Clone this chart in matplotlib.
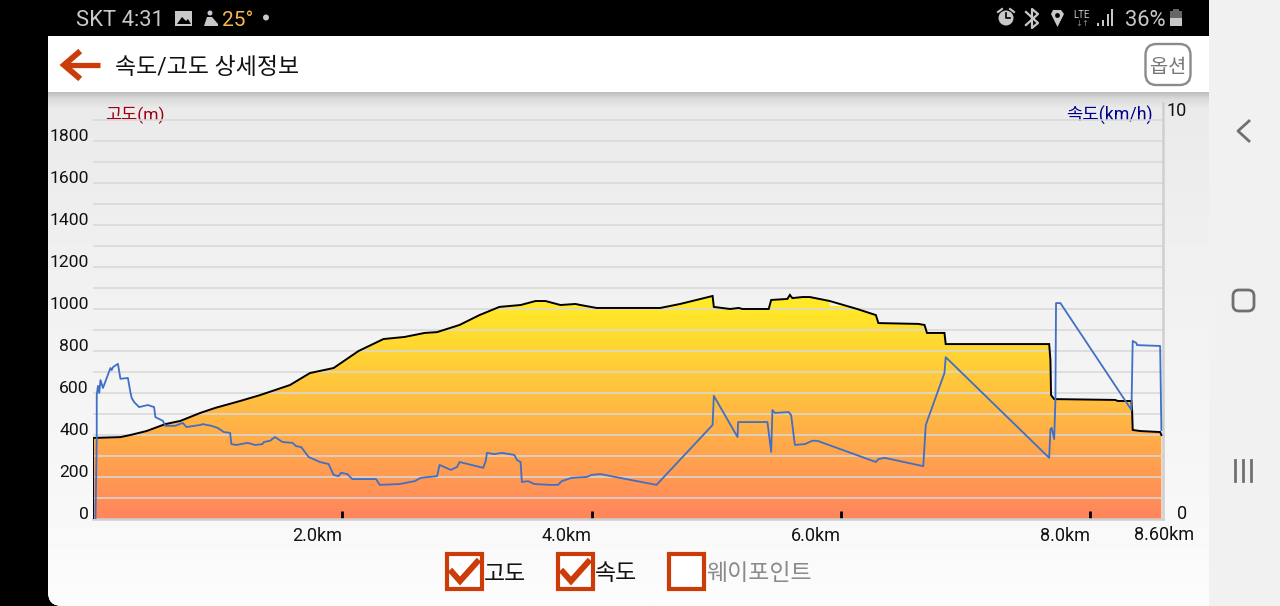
import numpy as np
import matplotlib
matplotlib.use("Agg")
import matplotlib.pyplot as plt
from matplotlib.colors import LinearSegmentedColormap
from matplotlib.patches import Rectangle, FancyBboxPatch, Polygon, Circle

plt.rcParams['font.family'] = ['Roboto', 'Noto Sans CJK KR', 'DejaVu Sans']

# elevation profile
alt_km = [0.00, 0.22, 0.30, 0.43, 0.58, 0.70, 0.86, 0.98, 1.18, 1.34, 1.58, 1.74, 1.93, 2.13, 2.33,
          2.50, 2.66, 2.76, 2.94, 3.10, 3.26, 3.43, 3.55, 3.63, 3.75, 3.87, 3.91, 4.04, 4.55, 4.71,
          4.97, 4.98, 5.11, 5.18, 5.21, 5.42, 5.44, 5.57, 5.59, 5.61, 5.69, 5.75, 5.91, 6.13, 6.28,
          6.30, 6.62, 6.67, 6.69, 6.83, 6.84, 7.67, 7.68, 7.685, 7.71, 8.20, 8.22, 8.33, 8.335, 8.34,
          8.40, 8.56, 8.57]
alt_m = [386, 390, 400, 419, 452, 467, 505, 529, 562, 590, 638, 695, 719, 800, 857,
         867, 886, 890, 924, 971, 1010, 1019, 1038, 1038, 1019, 1024, 1019, 1005, 1005, 1024,
         1062, 1010, 1000, 1005, 1000, 1000, 1043, 1048, 1067, 1052, 1057, 1057, 1038, 1000, 971,
         933, 929, 924, 886, 886, 833, 833, 757, 590, 571, 567, 562, 562, 519, 424,
         419, 414, 400]

# speed trace
spd_km = [0.02, 0.03, 0.03, 0.04, 0.05, 0.06, 0.08, 0.14, 0.15, 0.16, 0.20, 0.22, 0.28, 0.30, 0.31,
          0.33, 0.37, 0.44, 0.49, 0.50, 0.56, 0.58, 0.66, 0.72, 0.75, 0.86, 0.88, 0.95, 1.00, 1.05,
          1.10, 1.11, 1.15, 1.24, 1.30, 1.36, 1.37, 1.42, 1.46, 1.52, 1.60, 1.63, 1.67, 1.73, 1.82,
          1.89, 1.93, 1.97, 1.99, 2.04, 2.08, 2.27, 2.30, 2.46, 2.58, 2.63, 2.76, 2.78, 2.87, 2.92,
          2.94, 3.13, 3.15, 3.16, 3.22, 3.28, 3.38, 3.40, 3.43, 3.44, 3.49, 3.54, 3.67, 3.73, 3.76,
          3.84, 3.96, 4.00, 4.07, 4.19, 4.52, 4.97, 4.98, 5.17, 5.175, 5.41, 5.44, 5.45, 5.47, 5.58,
          5.60, 5.63, 5.71, 5.77, 5.81, 6.28, 6.30, 6.35, 6.66, 6.68, 6.83, 6.84, 7.67, 7.68, 7.69,
          7.71, 7.72, 7.725, 7.76, 8.33, 8.34, 8.37, 8.375, 8.56, 8.57]
spd_kmh = [0.02, 1.95, 2.98, 3.20, 3.03, 3.34, 3.15, 3.63, 3.58, 3.65, 3.73, 3.37, 3.39, 3.05, 2.91,
           2.81, 2.69, 2.74, 2.69, 2.45, 2.36, 2.24, 2.24, 2.31, 2.21, 2.26, 2.28, 2.24, 2.19, 2.09,
           2.07, 1.80, 1.78, 1.83, 1.78, 1.80, 1.85, 1.88, 1.97, 1.85, 1.83, 1.75, 1.73, 1.49, 1.37,
           1.32, 1.06, 1.03, 1.11, 1.08, 0.96, 0.96, 0.82, 0.84, 0.91, 0.99, 1.03, 1.30, 1.18, 1.25,
           1.37, 1.23, 1.39, 1.59, 1.56, 1.59, 1.54, 1.42, 1.37, 0.89, 0.91, 0.84, 0.82, 0.82, 0.91,
           0.99, 1.01, 1.06, 1.08, 1.01, 0.82, 2.26, 2.96, 1.97, 2.33, 2.33, 1.61, 2.62, 2.55, 2.57,
           2.50, 1.78, 1.80, 1.88, 1.88, 1.37, 1.44, 1.47, 1.27, 2.26, 3.51, 3.89, 1.47, 2.16, 2.19,
           1.92, 2.86, 5.19, 5.19, 2.62, 4.28, 4.23, 4.18, 4.16, 2.14]

alt_ticks = [0, 200, 400, 600, 800, 1000, 1200, 1400, 1600, 1800]
grid_levels = list(range(100, 2000, 100))
km_ticks = [2.0, 4.0, 6.0, 8.0]
km_labels = ["2.0km", "4.0km", "6.0km", "8.0km"]

W, H = 1280, 606
fig = plt.figure(figsize=(W / 100, H / 100), dpi=100, facecolor="black")

# phone screen, in pixel coordinates
ui = fig.add_axes([0, 0, 1, 1])
ui.set_xlim(0, W)
ui.set_ylim(H, 0)
ui.axis("off")
ui.add_patch(Rectangle((0, 0), W, H, fc="black", ec="none", zorder=0))

screen = FancyBboxPatch((48, 0), 1200, 606, boxstyle="round,pad=0,rounding_size=14", fc="white", ec="none", zorder=1)
ui.add_patch(screen)
bg = LinearSegmentedColormap.from_list("bg", [(0, "#c0c0c0"), (0.012, "#dcdcdc"), (0.03, "#ebebeb"),
                                              (0.4, "#f2f2f2"), (0.85, "#f9f9f9"), (1, "#fdfdfd")])
im = ui.imshow(np.linspace(0, 1, 512).reshape(-1, 1), cmap=bg, extent=(48, 1248, 606, 92),
               aspect="auto", interpolation="bilinear", zorder=1.5)
im.set_clip_path(screen)
ui.set_xlim(0, W)
ui.set_ylim(H, 0)

ui.add_patch(Rectangle((48, 36), 1161, 56, fc="white", ec="none", zorder=2))
ui.add_patch(Rectangle((0, 0), 1209, 36, fc="black", ec="none", zorder=2))
ui.add_patch(Rectangle((1209, 0), 71, H, fc="#f1f1f1", ec="none", zorder=2))

# header
ORANGE = "#cc3c08"
ui.plot([66, 100], [65, 65], color=ORANGE, lw=3.8, solid_capstyle="butt", zorder=3)
ui.plot([78, 64, 78], [53, 65, 77], color=ORANGE, lw=4.2, solid_joinstyle="miter", zorder=3)
ui.text(115, 68, "속도/고도 상세정보", fontsize=16.5, color="#111111", va="center", ha="left", zorder=3)
ui.add_patch(FancyBboxPatch((1145.5, 44), 45, 41, boxstyle="round,pad=0,rounding_size=11", fc="white", ec="#8a8a8a", lw=1.7, zorder=3))
ui.text(1168, 67, "옵션", fontsize=14.2, color="#777777", va="center", ha="center", zorder=4)

# status bar
GREY = "#c8c8c8"
ui.text(76, 21, "SKT 4:31", fontsize=15.8, color=GREY, va="center", ha="left", zorder=3)
ui.add_patch(Rectangle((175, 11), 17, 15, fc=GREY, ec="none", zorder=3))
ui.add_patch(Polygon([[177, 24], [182, 17], [186, 21], [188, 19], [191, 24]], fc="black", ec="none", zorder=4))
ui.add_patch(Circle((210, 13), 2.5, fc=GREY, ec="none", zorder=3))
ui.add_patch(Polygon([[204, 26], [207, 17], [212, 17], [218, 24], [218, 26]], fc=GREY, ec="none", zorder=3))
ui.text(238, 20, "25°", fontsize=15, color="#f9b84a", va="center", ha="center", stretch="condensed", zorder=3)
ui.add_patch(Circle((266, 17.5), 3, fc=GREY, ec="none", zorder=3))
ui.add_patch(Circle((1006, 18), 7.5, fc=GREY, ec="none", zorder=3))
ui.plot([1006, 1006, 1010], [13, 18, 18], color="black", lw=1.2, zorder=4)
ui.plot([998, 1002], [12, 9], color=GREY, lw=1.5, zorder=3)
ui.plot([1014, 1010], [12, 9], color=GREY, lw=1.5, zorder=3)
ui.plot([1026, 1038, 1032, 1032, 1038, 1026], [12, 23, 28, 9, 14, 25], color=GREY, lw=1.6, zorder=3)
ui.add_patch(Polygon([[1051, 14], [1053, 10], [1061, 10], [1064, 14], [1057.5, 27]], fc=GREY, ec="none", zorder=3))
ui.add_patch(Circle((1057.5, 15.5), 2.4, fc="black", ec="none", zorder=4))
ui.text(1082, 15, "LTE", fontsize=7, color=GREY, va="center", ha="center", zorder=3)
ui.text(1082, 23, "↓↑", fontsize=6, color="#888888", va="center", ha="center", family=["DejaVu Sans"], zorder=3)
for bx, bt in zip([1097, 1102, 1107, 1111], [23, 20, 14, 9]):
    ui.add_patch(Rectangle((bx, bt), 2, 26 - bt, fc=GREY, ec="none", zorder=3))
ui.text(1125, 20, "36%", fontsize=15.8, color=GREY, va="center", ha="left", zorder=3)
ui.add_patch(Rectangle((1170, 11), 12, 15, fc="#666666", ec="none", zorder=3))
ui.add_patch(Rectangle((1170, 18), 12, 8, fc=GREY, ec="none", zorder=4))
ui.add_patch(Rectangle((1173, 9), 6, 2, fc="#666666", ec="none", zorder=3))

# navigation bar
NAV = "#707070"
ui.plot([1249, 1238, 1249], [121, 131, 141], color=NAV, lw=2, zorder=3)
ui.add_patch(FancyBboxPatch((1233, 290), 21, 21, boxstyle="round,pad=0,rounding_size=6", fc="none", ec=NAV, lw=2, zorder=3))
for bx in [1235, 1243, 1251]:
    ui.plot([bx, bx], [460, 481], color=NAV, lw=2, zorder=3)

# legend check boxes
for bx, on, label, col in [(445, True, "고도", "#111111"), (556, True, "속도", "#111111"), (667, False, "웨이포인트", "#8a8a8a")]:
    ui.add_patch(Rectangle((bx + 1.5, 553.5), 35, 35, fc="white", ec=ORANGE, lw=3, zorder=3))
    if on:
        ui.plot([bx + 7, bx + 15, bx + 32], [572, 581, 562], color=ORANGE, lw=4.3, solid_joinstyle="miter", zorder=4)
    ui.text(bx + 39, 574, label, fontsize=16.5, color=col, va="center", ha="left", zorder=4)

# chart
ax = fig.add_axes([93 / W, (H - 519) / H, 1070 / W, 416 / H], zorder=5)
ax.patch.set_alpha(0)
ax.set_xlim(0, 8.583)
ax.set_ylim(0, 1981)

grad = LinearSegmentedColormap.from_list("alt", ["#ff855c", "#ffa84c", "#ffc93a", "#ffe928"])
fill = ax.imshow(np.linspace(1, 0, 256).reshape(-1, 1), cmap=grad, vmin=0, vmax=1, aspect="auto",
                 extent=(0, 8.583, 0, 1010), zorder=1, interpolation="bilinear")
ax.set_xlim(0, 8.583)
ax.set_ylim(0, 1981)
poly = ax.fill(alt_km + [alt_km[-1], 0], alt_m + [0, 0], fc="none", ec="none", zorder=0)[0]
ax.fill_between(alt_km, 1005, alt_m, where=np.array(alt_m) >= 1005, color="#ffe928", lw=0, zorder=1)
fill.set_clip_path(poly)

ax.hlines(grid_levels, 0, 8.583, color="#d8d8d8", lw=1.25, alpha=0.9, zorder=2)
ax.plot([0] + alt_km, [0] + alt_m, color="black", lw=1.4, zorder=3, solid_joinstyle="miter")
ax.plot(spd_km, np.array(spd_kmh) * 198.1, color="#3f6fc6", lw=1.3, zorder=4)

ax.spines["top"].set_visible(False)
ax.spines["left"].set_visible(False)
ax.spines["right"].set_color("#cfcfcf")
ax.spines["right"].set_linewidth(1.8)
ax.spines["bottom"].set_color("#cfcfcf")
ax.spines["bottom"].set_linewidth(1.8)

ax.set_yticks(alt_ticks)
ax.set_yticklabels([str(v) for v in alt_ticks], fontsize=12.6, color="#111111", va="baseline")
ax.tick_params(axis="y", length=0, pad=3)
ax.set_xticks(km_ticks)
ax.set_xticklabels(km_labels, fontsize=13, color="#111111", ha="right")
ax.tick_params(axis="x", direction="in", length=6, width=2, color="black", pad=6)
ax.get_xticklines()[0].set_color("#d0d0d0")
ax.annotate("8.60km", (1, 0), xycoords="axes fraction", xytext=(1, -16), textcoords="offset pixels",
            fontsize=13, color="#111111", ha="center", va="center", annotation_clip=False)

ax2 = ax.twinx()
ax2.set_ylim(0, 10)
ax2.set_yticks([])
ax2.annotate("0", (1, 0), xycoords=("axes fraction", "data"), xytext=(24, 5), textcoords="offset pixels",
             fontsize=13, color="#111111", ha="right", va="center", annotation_clip=False)
ax2.annotate("10", (1, 10), xycoords=("axes fraction", "data"), xytext=(24, -8), textcoords="offset pixels",
             fontsize=13, color="#111111", ha="right", va="center", annotation_clip=False)
for s in ax2.spines.values():
    s.set_visible(False)
ax2.patch.set_alpha(0)

ui.text(105, 115, "고도(m)", fontsize=12.6, color="#a00012", va="center", ha="left", zorder=3)
ui.text(1153, 115, "속도(km/h)", fontsize=12.8, color="#00008f", va="center", ha="right", zorder=3)

fig.savefig("out.png", dpi=100, facecolor="black")
